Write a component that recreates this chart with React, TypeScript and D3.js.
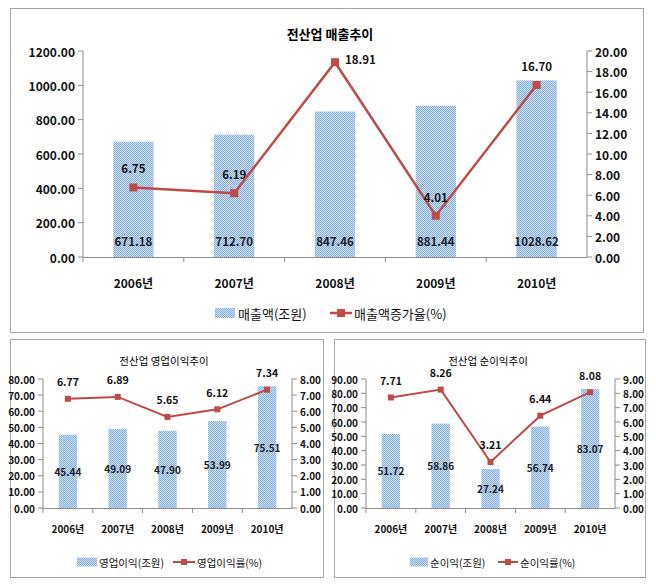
import React from 'react'
import * as d3 from 'd3'

const years = ['2006년', '2007년', '2008년', '2009년', '2010년']

const salesValues = [671.18, 712.70, 847.46, 881.44, 1028.62]
const salesGrowth = [6.75, 6.19, 18.91, 4.01, 16.70]

const opProfitValues = [45.44, 49.09, 47.90, 53.99, 75.51]
const opMargin = [6.77, 6.89, 5.65, 6.12, 7.34]

const netProfitValues = [51.72, 58.86, 27.24, 56.74, 83.07]
const netMargin = [7.71, 8.26, 3.21, 6.44, 8.08]

const FONT = "'Noto Sans CJK KR', 'Noto Sans', sans-serif"
const BAR_FILL = 'url(#hatch)'
const LINE_COLOR = '#BE4B48'
const AXIS_COLOR = '#8c8c8c'

type Cfg = {
  title: string
  barName: string
  lineName: string
  bars: number[]
  line: number[]
  leftMax: number
  leftStep: number
  rightMax: number
  rightStep: number
  panel: { x: number, y: number, w: number, h: number }
  plot: { left: number, right: number, top: number, bottom: number }
  titlePos: { x: number, y: number, size: number, weight: string }
  barRatio: number
  barLabelMode: 'base' | 'center'
  tickSize: number
  xLabelSize: number
  xLabelY: number
  dataLabelSize: number
  barLabelSize: number
  barLabelWeight: string
  labelOffset: number
  rightLabelIdx: number
  markerSize: number
  lineWidth: number
  legend: { y: number, swatchX: number, swatchW: number, swatchH: number, text1X: number, lineX1: number, lineX2: number, text2X: number, size: number }
}

function Chart ({ c }: { c: Cfg }) {
  const x = d3.scaleBand<string>()
    .domain(years)
    .range([c.plot.left, c.plot.right])
    .padding(0)
  const yL = d3.scaleLinear().domain([0, c.leftMax]).range([c.plot.bottom, c.plot.top])
  const yR = d3.scaleLinear().domain([0, c.rightMax]).range([c.plot.bottom, c.plot.top])
  const leftTicks = d3.range(0, c.leftMax + c.leftStep / 2, c.leftStep)
  const rightTicks = d3.range(0, c.rightMax + c.rightStep / 2, c.rightStep)
  const bw = x.bandwidth() * c.barRatio
  const cx = (d: string) => (x(d) as number) + x.bandwidth() / 2
  const linePath = d3.line<number>()
    .x((v, i) => cx(years[i]))
    .y(v => yR(v))(c.line)
  const ms = c.markerSize
  const lg = c.legend
  return <g fontFamily={FONT}>
    <rect x={c.panel.x + 0.5} y={c.panel.y + 0.5} width={c.panel.w} height={c.panel.h} fill='#fff' stroke='#a6a6a6' />
    <text x={c.titlePos.x} y={c.titlePos.y} textAnchor='middle' dominantBaseline='central' fontSize={c.titlePos.size} fontWeight={c.titlePos.weight} fill='#000'>{c.title}</text>
    {/* bars */}
    {c.bars.map((v, i) => (
      <rect key={i} x={cx(years[i]) - bw / 2} y={yL(v)} width={bw} height={yL(0) - yL(v)} fill={BAR_FILL} />
    ))}
    {/* axes */}
    <line x1={c.plot.left} x2={c.plot.left} y1={c.plot.top} y2={c.plot.bottom} stroke={AXIS_COLOR} />
    <line x1={c.plot.right} x2={c.plot.right} y1={c.plot.top} y2={c.plot.bottom} stroke={AXIS_COLOR} />
    <line x1={c.plot.left} x2={c.plot.right} y1={c.plot.bottom + 0.5} y2={c.plot.bottom + 0.5} stroke={AXIS_COLOR} />
    {leftTicks.map((t, i) => <g key={i} transform={`translate(${c.plot.left},${yL(t)})`}>
      <line x1={-5} x2={0} stroke={AXIS_COLOR} />
      <text x={-8} textAnchor='end' dominantBaseline='central' fontSize={c.tickSize} fontWeight='bold' fill='#111'>{t.toFixed(2)}</text>
    </g>)}
    {rightTicks.map((t, i) => <g key={i} transform={`translate(${c.plot.right},${yR(t)})`}>
      <line x1={0} x2={5} stroke={AXIS_COLOR} />
      <text x={8} textAnchor='start' dominantBaseline='central' fontSize={c.tickSize} fontWeight='bold' fill='#111'>{t.toFixed(2)}</text>
    </g>)}
    {years.map((d, i) => <g key={i}>
      <line x1={(x(d) as number)} x2={(x(d) as number)} y1={c.plot.bottom} y2={c.plot.bottom + 5} stroke={AXIS_COLOR} />
      <text x={cx(d)} y={c.xLabelY} textAnchor='middle' dominantBaseline='central' fontSize={c.xLabelSize} fontWeight='bold' fill='#111'>{d}</text>
    </g>)}
    {/* bar labels */}
    {c.bars.map((v, i) => (
      <text key={i} x={cx(years[i])} y={c.barLabelMode === 'base' ? c.plot.bottom - 16 : (yL(v) + yL(0)) / 2}
        textAnchor='middle' dominantBaseline='central' fontSize={c.barLabelSize} fontWeight={c.barLabelWeight} fill='#1a1a2a'>{v.toFixed(2)}</text>
    ))}
    {/* line */}
    <path d={linePath || ''} fill='none' stroke={LINE_COLOR} strokeWidth={c.lineWidth} />
    {c.line.map((v, i) => (
      <rect key={i} x={cx(years[i]) - ms / 2} y={yR(v) - ms / 2} width={ms} height={ms} fill={LINE_COLOR} />
    ))}
    {c.line.map((v, i) => (
      i === c.rightLabelIdx
        ? <text key={i} x={cx(years[i]) + ms / 2 + 6} y={yR(v) - 3} textAnchor='start' dominantBaseline='central' fontSize={c.dataLabelSize} fontWeight='bold' fill='#111'>{v.toFixed(2)}</text>
        : <text key={i} x={cx(years[i])} y={yR(v) - c.labelOffset} textAnchor='middle' dominantBaseline='central' fontSize={c.dataLabelSize} fontWeight='bold' fill='#111'>{v.toFixed(2)}</text>
    ))}
    {/* legend */}
    <rect x={lg.swatchX} y={lg.y - lg.swatchH / 2} width={lg.swatchW} height={lg.swatchH} fill={BAR_FILL} />
    <text x={lg.text1X} y={lg.y} dominantBaseline='central' fontSize={lg.size} fill='#111'>{c.barName}</text>
    <line x1={lg.lineX1} x2={lg.lineX2} y1={lg.y} y2={lg.y} stroke={LINE_COLOR} strokeWidth={c.lineWidth} />
    <rect x={(lg.lineX1 + lg.lineX2) / 2 - ms / 2} y={lg.y - ms / 2} width={ms} height={ms} fill={LINE_COLOR} />
    <text x={lg.text2X} y={lg.y} dominantBaseline='central' fontSize={lg.size} fill='#111'>{c.lineName}</text>
  </g>
}

const topCfg: Cfg = {
  title: '전산업 매출추이',
  barName: '매출액(조원)',
  lineName: '매출액증가율(%)',
  bars: salesValues,
  line: salesGrowth,
  leftMax: 1200,
  leftStep: 200,
  rightMax: 20,
  rightStep: 2,
  panel: { x: 10, y: 8, w: 633, h: 324 },
  plot: { left: 83, right: 587, top: 51, bottom: 257 },
  titlePos: { x: 330, y: 33, size: 13, weight: 'bold' },
  barRatio: 0.4,
  barLabelMode: 'base',
  tickSize: 12,
  xLabelSize: 12,
  xLabelY: 282,
  dataLabelSize: 11.5,
  barLabelSize: 11.5,
  barLabelWeight: 'bold',
  labelOffset: 19,
  rightLabelIdx: 2,
  markerSize: 8,
  lineWidth: 2.5,
  legend: { y: 313, swatchX: 215, swatchW: 20, swatchH: 10, text1X: 238, lineX1: 330, lineX2: 352, text2X: 354, size: 13 }
}

const opCfg: Cfg = {
  title: '전산업 영업이익추이',
  barName: '영업이익(조원)',
  lineName: '영업이익률(%)',
  bars: opProfitValues,
  line: opMargin,
  leftMax: 80,
  leftStep: 10,
  rightMax: 8,
  rightStep: 1,
  panel: { x: 10, y: 339, w: 313, h: 238 },
  plot: { left: 43, right: 292, top: 379, bottom: 508 },
  titlePos: { x: 164, y: 360, size: 10.5, weight: 'normal' },
  barRatio: 0.37,
  barLabelMode: 'center',
  tickSize: 10,
  xLabelSize: 10,
  xLabelY: 528,
  dataLabelSize: 10.5,
  barLabelSize: 10,
  barLabelWeight: 'bold',
  labelOffset: 17,
  rightLabelIdx: -1,
  markerSize: 6,
  lineWidth: 2,
  legend: { y: 562, swatchX: 77, swatchW: 20, swatchH: 9, text1X: 99, lineX1: 173, lineX2: 195, text2X: 197, size: 10.5 }
}

const netCfg: Cfg = {
  title: '전산업 순이익추이',
  barName: '순이익(조원)',
  lineName: '순이익률(%)',
  bars: netProfitValues,
  line: netMargin,
  leftMax: 90,
  leftStep: 10,
  rightMax: 9,
  rightStep: 1,
  panel: { x: 334, y: 339, w: 311, h: 238 },
  plot: { left: 366, right: 615, top: 379, bottom: 508 },
  titlePos: { x: 488, y: 360, size: 10.5, weight: 'normal' },
  barRatio: 0.37,
  barLabelMode: 'center',
  tickSize: 10,
  xLabelSize: 10,
  xLabelY: 528,
  dataLabelSize: 10.5,
  barLabelSize: 10,
  barLabelWeight: 'bold',
  labelOffset: 17,
  rightLabelIdx: -1,
  markerSize: 6,
  lineWidth: 2,
  legend: { y: 562, swatchX: 410, swatchW: 18, swatchH: 9, text1X: 430, lineX1: 498, lineX2: 518, text2X: 520, size: 10.5 }
}

export default function App () {
  return <div style={{ position: 'absolute', left: 0, top: 0 }}>
    <svg width={656} height={585} viewBox='0 0 656 585' style={{ display: 'block', background: '#fff' }}>
      <defs>
        <pattern id='hatch' width='2' height='2' patternUnits='userSpaceOnUse'>
          <rect width='2' height='2' fill='#C8DDF3' />
          <rect x='0' y='0' width='1' height='1' fill='#8AB1E0' />
          <rect x='1' y='1' width='1' height='1' fill='#8AB1E0' />
        </pattern>
      </defs>
      <Chart c={topCfg} />
      <Chart c={opCfg} />
      <Chart c={netCfg} />
    </svg>
  </div>
}
